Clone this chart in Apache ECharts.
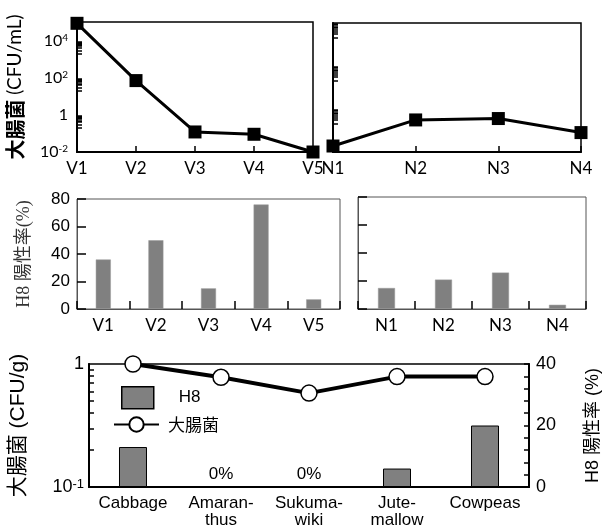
<!DOCTYPE html>
<html><head><meta charset="utf-8">
<script src="https://cdn.jsdelivr.net/npm/echarts@6/dist/echarts.min.js"></script>
<style>html,body{margin:0;padding:0;background:#fff}#c{width:610px;height:530px}</style>
</head><body><div id="c"></div>
<script>
// ---- data ----
const vCats = ['V1', 'V2', 'V3', 'V4', 'V5'];
const nCats = ['N1', 'N2', 'N3', 'N4'];
const vEcoli = [85000, 70, 0.12, 0.09, 0.01];
const nEcoli = [0.019, 0.31, 0.36, 0.08];
const vH8 = [36, 50, 15, 76, 7];
const nH8 = [15, 21, 26, 3];
const foodCats = ['Cabbage', 'Amaran-\nthus', 'Sukuma-\nwiki', 'Jute-\nmallow', 'Cowpeas'];
const foodH8 = [13, 0, 0, 6, 20];
const foodEcoli = [1, 0.78, 0.58, 0.79, 0.79];
const topLeftLabels = [0.01, 1, 100, 10000];
const topLeftTicks = [2000, 3000, 4000, 5000, 6000, 7000, 8000, 9000,
  20, 30, 40, 50, 60, 70, 80, 90, 0.2, 0.3, 0.4, 0.5, 0.6, 0.7, 0.8, 0.9];
const topRightTicks = [2000, 3000, 4000, 5000, 6000, 7000, 8000, 9000,
  20, 30, 40, 50, 60, 70, 80, 90, 0.2, 0.3, 0.4, 0.5, 0.6, 0.7, 0.8, 0.9];
const bottomLeftLabels = [0.1, 1];
const bottomLeftTicks = [0.2, 0.3, 0.4, 0.5, 0.6, 0.7, 0.8, 0.9];

// ---- styles ----
const LATO = 'Lato, "Noto Sans CJK JP", sans-serif';
const ARIAL = '"Liberation Sans", Arial, "Noto Sans CJK JP", sans-serif';
const SERIF = '"Liberation Serif", "DejaVu Serif", "Noto Sans CJK JP", serif';
const BAR_GRAY = '#808080';

function powLabel(v) {
  const e = Math.round(Math.log10(v));
  if (e === 0) return '1';
  return '10{s|' + e + '}';
}

const chart = echarts.init(document.getElementById('c'), null, {renderer: 'canvas'});
const option = {
  animation: false,
  backgroundColor: '#fff',
  grid: [
    {left: 77, top: 22, width: 236, height: 130, show: true, borderColor: '#000', borderWidth: 1.5, containLabel: false},
    {left: 333, top: 23, width: 248, height: 129, show: true, borderColor: '#000', borderWidth: 1.5},
    {left: 77, top: 199, width: 263, height: 110, show: true, borderColor: '#555', borderWidth: 1},
    {left: 358, top: 197, width: 228, height: 112, show: true, borderColor: '#555', borderWidth: 1},
    {left: 87, top: 364, width: 444, height: 123, show: true, borderColor: '#000', borderWidth: 1.5}
  ],
  legend: [
    {data: [{name: 'H8', icon: 'rect'}], left: 116, top: 381, itemWidth: 32, itemHeight: 22, selectedMode: false,
      itemStyle: {color: BAR_GRAY, borderColor: '#000', borderWidth: 1.5},
      textStyle: {fontFamily: ARIAL, fontSize: 17, color: '#000', padding: [0, 0, 0, 20]}},
    {data: ['大腸菌'], left: 108, top: 411, itemWidth: 45, itemHeight: 18, selectedMode: false,
      textStyle: {fontFamily: '"Noto Sans CJK JP", sans-serif', fontSize: 17, color: '#000', padding: [0, 0, 0, 4]}}
  ],
  xAxis: [
    {type: 'category', gridIndex: 0, data: vCats, boundaryGap: false,
      axisLine: {show: true, lineStyle: {color: '#000', width: 2}},
      axisTick: {show: true, inside: true, length: 6, lineStyle: {color: '#000', width: 1.5}},
      axisLabel: {fontFamily: LATO, fontSize: 17, color: '#000', margin: 8}},
    {type: 'category', gridIndex: 1, data: nCats, boundaryGap: false,
      axisLine: {show: true, lineStyle: {color: '#000', width: 2}},
      axisTick: {show: true, inside: true, length: 6, lineStyle: {color: '#000', width: 1.5}},
      axisLabel: {fontFamily: LATO, fontSize: 17, color: '#000', margin: 8}},
    {type: 'category', gridIndex: 2, data: vCats, boundaryGap: true,
      axisLine: {show: true, lineStyle: {color: '#555', width: 1}},
      axisTick: {show: true, inside: true, length: 8, lineStyle: {color: '#000', width: 1.5}},
      axisLabel: {fontFamily: LATO, fontSize: 17, color: '#000', margin: 8}},
    {type: 'category', gridIndex: 3, data: nCats, boundaryGap: true,
      axisLine: {show: true, lineStyle: {color: '#555', width: 1}},
      axisTick: {show: true, inside: true, length: 8, lineStyle: {color: '#000', width: 1.5}},
      axisLabel: {fontFamily: LATO, fontSize: 17, color: '#000', margin: 8}},
    {type: 'category', gridIndex: 4, data: foodCats, boundaryGap: true,
      axisLine: {show: true, lineStyle: {color: '#000', width: 2}},
      axisTick: {show: false},
      axisLabel: {fontFamily: ARIAL, fontSize: 17, color: '#000', margin: 8, lineHeight: 17, interval: 0}}
  ],
  yAxis: [
    {type: 'log', logBase: 10, gridIndex: 0, min: 0.01, max: 100000,
      name: '{b|大腸菌} (CFU/mL)', nameLocation: 'middle', nameGap: 52,
      nameTextStyle: {fontFamily: LATO, fontSize: 19, color: '#000',
        rich: {b: {fontFamily: '"Noto Sans CJK JP", sans-serif', fontSize: 20, fontWeight: 'bold', color: '#000'}}},
      axisLine: {show: true, lineStyle: {color: '#000', width: 2}},
      splitLine: {show: false},
      axisTick: {show: true, inside: true, length: 5, customValues: topLeftTicks, lineStyle: {color: '#000', width: 1.5}},
      axisLabel: {customValues: topLeftLabels, fontFamily: LATO, fontSize: 16, color: '#000', margin: 9,
        formatter: powLabel, rich: {s: {fontFamily: LATO, fontSize: 10, verticalAlign: 'top', color: '#000'}}}},
    {type: 'log', logBase: 10, gridIndex: 1, min: 0.01, max: 10000,
      axisLine: {show: true, lineStyle: {color: '#000', width: 2}},
      splitLine: {show: false},
      axisTick: {show: true, inside: true, length: 5, customValues: topRightTicks, lineStyle: {color: '#000', width: 1.5}},
      axisLabel: {show: false}},
    {type: 'value', gridIndex: 2, min: 0, max: 80, interval: 20,
      name: 'H8 陽性率(%)', nameLocation: 'middle', nameGap: 44,
      nameTextStyle: {fontFamily: SERIF, fontSize: 18, color: '#333'},
      axisLine: {show: true, lineStyle: {color: '#555', width: 1}},
      splitLine: {show: false},
      axisTick: {show: true, inside: true, length: 9, lineStyle: {color: '#000', width: 1.5}},
      axisLabel: {fontFamily: ARIAL, fontSize: 17, color: '#000', margin: 7}},
    {type: 'value', gridIndex: 3, min: 0, max: 80, interval: 20,
      axisLine: {show: true, lineStyle: {color: '#555', width: 1}},
      splitLine: {show: false},
      axisTick: {show: true, inside: true, length: 9, lineStyle: {color: '#000', width: 1.5}},
      axisLabel: {show: false}},
    {type: 'log', logBase: 10, gridIndex: 4, min: 0.1, max: 1, position: 'left',
      name: '大腸菌 (CFU/g)', nameLocation: 'middle', nameGap: 60,
      nameTextStyle: {fontFamily: ARIAL, fontSize: 21, color: '#000'},
      axisLine: {show: true, lineStyle: {color: '#000', width: 2}},
      splitLine: {show: false},
      axisTick: {show: true, inside: true, length: 5, customValues: bottomLeftTicks, lineStyle: {color: '#000', width: 1.5}},
      axisLabel: {customValues: bottomLeftLabels, fontFamily: ARIAL, fontSize: 18, color: '#000', margin: 5,
        formatter: powLabel, rich: {s: {fontFamily: ARIAL, fontSize: 13, verticalAlign: 'top', color: '#000'}}}},
    {type: 'value', gridIndex: 4, min: 0, max: 40, interval: 20, position: 'right',
      name: 'H8 陽性率 (%)', nameLocation: 'middle', nameGap: 55, nameRotate: 90,
      nameTextStyle: {fontFamily: ARIAL, fontSize: 18, color: '#000'},
      axisLine: {show: true, lineStyle: {color: '#000', width: 2}},
      splitLine: {show: false},
      axisTick: {show: true, inside: true, length: 5, lineStyle: {color: '#000', width: 1.5}},
      minorTick: {show: true, splitNumber: 5, length: 5, lineStyle: {color: '#000', width: 1.5}},
      minorSplitLine: {show: false},
      axisLabel: {fontFamily: ARIAL, fontSize: 18, color: '#000', margin: 7}}
  ],
  series: [
    {name: 'E.coli V', type: 'line', xAxisIndex: 0, yAxisIndex: 0, data: vEcoli, clip: false,
      symbol: 'rect', symbolSize: 13, lineStyle: {color: '#000', width: 3}, itemStyle: {color: '#000'}, z: 5},
    {name: 'E.coli N', type: 'line', xAxisIndex: 1, yAxisIndex: 1, data: nEcoli, clip: false,
      symbol: 'rect', symbolSize: 13, lineStyle: {color: '#000', width: 3}, itemStyle: {color: '#000'}, z: 5},
    {name: 'H8 V', type: 'bar', xAxisIndex: 2, yAxisIndex: 2, data: vH8, barWidth: 15,
      itemStyle: {color: BAR_GRAY, borderColor: '#9a9a9a', borderWidth: 0.5}},
    {name: 'H8 N', type: 'bar', xAxisIndex: 3, yAxisIndex: 3, data: nH8, barWidth: 17,
      itemStyle: {color: BAR_GRAY, borderColor: '#9a9a9a', borderWidth: 0.5}},
    {name: 'H8', type: 'bar', xAxisIndex: 4, yAxisIndex: 5, data: foodH8, barWidth: 28,
      itemStyle: {color: BAR_GRAY, borderColor: '#000', borderWidth: 1},
      label: {show: true, position: 'top', distance: 4, fontFamily: ARIAL, fontSize: 17, color: '#000',
        formatter: p => (p.value === 0 ? '0%' : '')}},
    {name: '大腸菌', type: 'line', xAxisIndex: 4, yAxisIndex: 4, data: foodEcoli, clip: false,
      symbol: 'circle', symbolSize: 16, lineStyle: {color: '#000', width: 4},
      itemStyle: {color: '#fff', borderColor: '#000', borderWidth: 1.5}, z: 5}
  ]
};
chart.setOption(option);
</script>
</body></html>
